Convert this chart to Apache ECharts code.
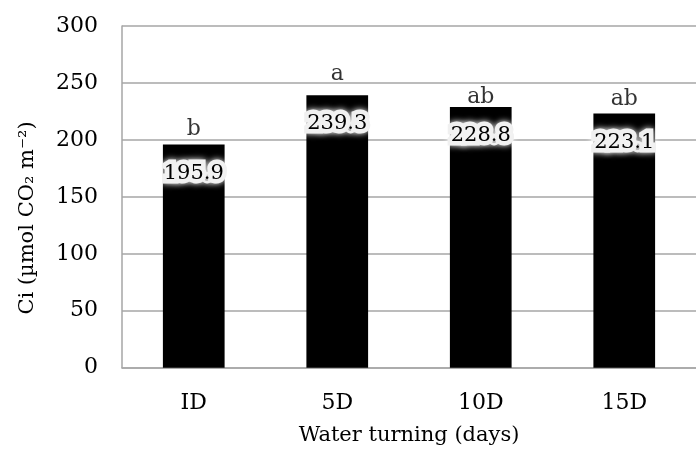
<!DOCTYPE html>
<html>
<head>
<meta charset="utf-8">
<script src="https://cdn.jsdelivr.net/npm/echarts@6/dist/echarts.min.js"></script>
<style>html,body{margin:0;padding:0;background:#fff}#c{width:696px;height:455px}</style>
</head>
<body>
<div id="c"></div>
<script>
var categories = ['ID', '5D', '10D', '15D'];
var ciValues = [195.9, 239.3, 228.8, 223.1];
var letters = ['b', 'a', 'ab', 'ab'];
var letterY = [209, 258, 237, 235.5];
var yTicks = [0, 50, 100, 150, 200, 250, 300];

var FONT = 'DejaVu Serif';
var chart = echarts.init(document.getElementById('c'));
chart.setOption({
  animation: false,
  backgroundColor: '#fff',
  grid: { left: 122, top: 26, width: 585, height: 341.7, containLabel: false },
  xAxis: {
    type: 'category',
    data: categories,
    axisLine: { lineStyle: { color: '#a6a6a6', width: 1.5 } },
    axisTick: { show: false },
    axisLabel: { color: '#000', fontFamily: FONT, fontSize: 22, margin: 25 },
    name: 'Water turning (days)',
    nameLocation: 'middle',
    nameGap: 57,
    nameTextStyle: { color: '#000', fontFamily: FONT, fontSize: 21 }
  },
  yAxis: {
    type: 'value',
    min: yTicks[0],
    max: yTicks[yTicks.length - 1],
    interval: 50,
    axisLine: { show: true, lineStyle: { color: '#a6a6a6', width: 1.5 } },
    axisTick: { show: false },
    splitLine: { lineStyle: { color: '#a6a6a6', width: 1.5 } },
    axisLabel: { color: '#000', fontFamily: FONT, fontSize: 22, margin: 24 }
  },
  graphic: [{
    type: 'text',
    x: 28, y: 218,
    rotation: Math.PI / 2,
    style: {
      text: 'Ci (µmol CO₂ m⁻²)',
      fill: '#000',
      font: '21px "DejaVu Serif"',
      textAlign: 'center',
      textVerticalAlign: 'middle'
    }
  }],
  series: [{
    type: 'bar',
    data: ciValues,
    barWidth: '43%',
    itemStyle: { color: '#000' },
    label: {
      show: true,
      position: 'insideTop',
      distance: 18,
      color: '#000',
      fontFamily: FONT,
      fontSize: 21,
      textBorderColor: '#f0f0f0',
      textBorderWidth: 9,
      textShadowColor: '#ffffff',
      textShadowBlur: 6,
      formatter: function (p) { return p.value.toFixed(1); }
    }
  }, {
    type: 'scatter',
    data: letterY,
    symbolSize: 1,
    itemStyle: { color: 'rgba(0,0,0,0)' },
    label: {
      show: true,
      position: 'inside',
      color: '#000',
      fontFamily: FONT,
      fontSize: 22,
      formatter: function (p) { return letters[p.dataIndex]; }
    }
  }]
});
</script>
</body>
</html>
